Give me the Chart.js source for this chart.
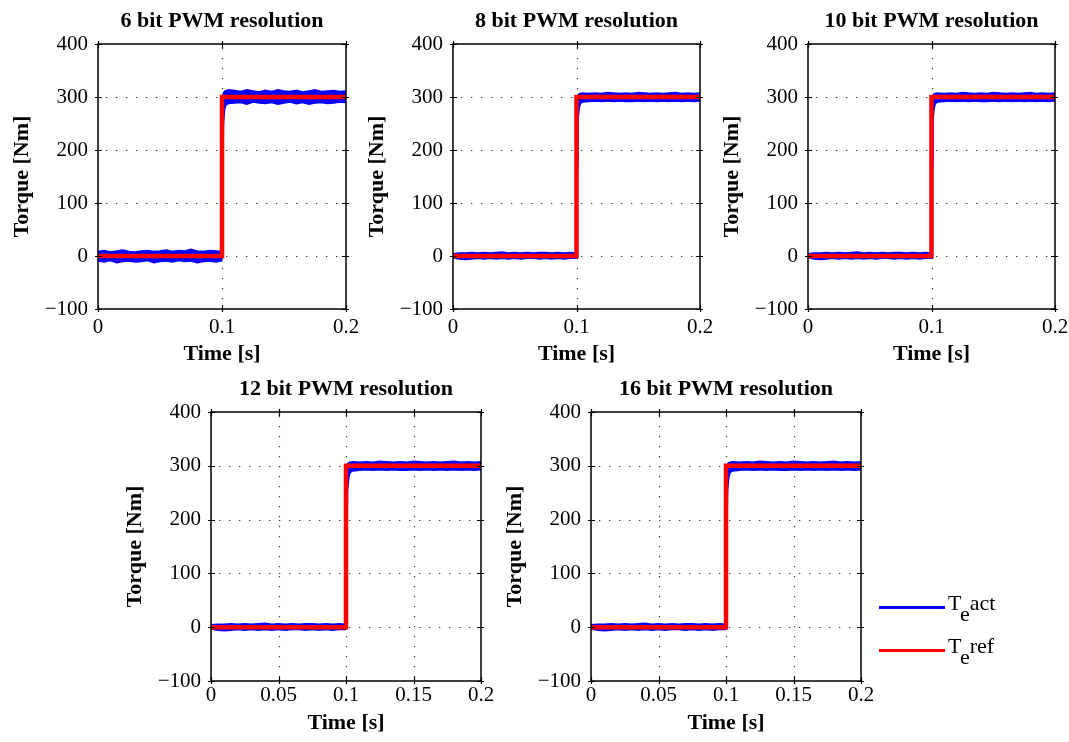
<!DOCTYPE html>
<html>
<head>
<meta charset="utf-8">
<title>PWM resolution – torque step</title>
<script src="https://cdn.jsdelivr.net/npm/chart.js@4.4.0/dist/chart.umd.min.js"></script>
<style>
  body { margin: 0; background: #fff; width: 1069px; height: 742px; overflow: hidden; position: relative; font-family: "Liberation Serif", "Times New Roman", serif; }
  canvas { position: absolute; }
  .leg { position: absolute; left: 879px; width: 66px; height: 3px; }
  .legtxt { position: absolute; left: 948px; font-size: 22px; line-height: 22px; color: #000; }
  .legtxt span { position: relative; top: 11px; }
</style>
</head>
<body>

<canvas id="c6"></canvas>
<canvas id="c8"></canvas>
<canvas id="c10"></canvas>
<canvas id="c12"></canvas>
<canvas id="c16"></canvas>

<div class="leg" style="top:606px;background:#0000ff"></div>
<div class="legtxt" style="top:592px">T<span>e</span>act</div>
<div class="leg" style="top:649px;background:#ff0000"></div>
<div class="legtxt" style="top:635px">T<span>e</span>ref</div>

<script>
/* ---------- data ---------- */
const titles = ["6 bit PWM resolution", "8 bit PWM resolution", "10 bit PWM resolution",
                "12 bit PWM resolution", "16 bit PWM resolution"];

const yTicks = [-100, 0, 100, 200, 300, 400];
const xTicksTop = [0, 0.1, 0.2];
const xTicksBottom = [0, 0.05, 0.1, 0.15, 0.2];

// reference torque (step at 0.1 s)
const tRef = [0, 0.1, 0.1, 0.2];
const teRef = [0, 0, 300, 300];

// actual torque: time samples + upper / lower envelope of the noisy band
const tAct = [0, 0.005, 0.01, 0.015, 0.02, 0.025, 0.03, 0.035, 0.04, 0.045,
              0.05, 0.055, 0.06, 0.065, 0.07, 0.075, 0.08, 0.085, 0.09, 0.095, 0.0995,
              0.1005, 0.101, 0.102, 0.103, 0.105,
              0.11, 0.115, 0.12, 0.125, 0.13, 0.135, 0.14, 0.145, 0.15, 0.155,
              0.16, 0.165, 0.17, 0.175, 0.18, 0.185, 0.19, 0.195, 0.2];

// 6 bit: wide noise band
const act6Hi = [8, 10, 7, 9, 11, 8, 7, 9, 10, 8, 9, 11, 8, 10, 9, 12, 9, 8, 10, 9, 8,
                290, 305, 310, 311, 313,
                312, 310, 313, 311, 309, 312, 310, 313, 311, 310, 312, 309, 311, 313, 310, 311, 312, 310, 311];
const act6Lo = [-9, -11, -8, -12, -10, -9, -11, -10, -8, -12, -10, -9, -11, -8, -10, -9, -12, -10, -9, -11, -9,
                170, 250, 278, 285, 288,
                289, 290, 287, 291, 289, 288, 290, 287, 289, 291, 288, 290, 287, 289, 290, 288, 289, 291, 290];

// 8/10/12/16 bit: narrower band
const actHi = [4, 5, 5, 6, 5, 6, 5, 6, 7, 5, 6, 5, 6, 5, 6, 6, 5, 6, 5, 6, 5,
               290, 302, 305, 306, 307,
               306, 307, 306, 308, 307, 306, 307, 306, 308, 307, 306, 307, 306, 307, 308, 306, 307, 306, 307];
const actLo = [-3, -5, -6, -5, -4, -5, -4, -5, -4, -5, -4, -5, -4, -4, -5, -4, -5, -4, -5, -4, -4,
               170, 255, 280, 288, 291,
               292, 293, 292, 293, 292, 293, 292, 292, 293, 292, 293, 292, 293, 292, 293, 292, 293, 292, 293];

/* ---------- helpers ---------- */
const BLUE = "#0000ff";
const RED = "#ff0000";
const FONT = "'Liberation Serif', 'Times New Roman', serif";

function toXY(xs, ys) {
  return xs.map((x, i) => ({ x: x, y: ys[i] }));
}

function fmtTick(v) {
  const s = String(Math.round(v * 1000) / 1000);
  return s.replace("-", "\u2212");
}

// dotted grid, box and small tick marks (drawn from the scales)
const framePlugin = {
  id: "frame",
  beforeDatasetsDraw(chart) {
    const { ctx, chartArea: a, scales: { x, y } } = chart;
    ctx.save();
    ctx.strokeStyle = "#333";
    ctx.lineWidth = 1.2;
    ctx.setLineDash([1.3, 8.7]);
    x.ticks.forEach(t => {
      if (t.value <= x.min || t.value >= x.max) return;
      const px = Math.round(x.getPixelForValue(t.value)) + 0.5;
      ctx.beginPath(); ctx.moveTo(px, a.top + 4); ctx.lineTo(px, a.bottom); ctx.stroke();
    });
    y.ticks.forEach(t => {
      if (t.value <= y.min || t.value >= y.max) return;
      const py = Math.round(y.getPixelForValue(t.value)) + 0.5;
      ctx.beginPath(); ctx.moveTo(a.left + 8, py); ctx.lineTo(a.right, py); ctx.stroke();
    });
    ctx.restore();
  },
  afterDraw(chart) {
    const { ctx, chartArea: a, scales: { x, y } } = chart;
    ctx.save();
    ctx.strokeStyle = "#000";
    ctx.lineWidth = 1.5;
    ctx.strokeRect(a.left, a.top, a.right - a.left, a.bottom - a.top);
    ctx.lineWidth = 1.2;
    x.ticks.forEach(t => {
      const px = Math.round(x.getPixelForValue(t.value)) + 0.5;
      ctx.beginPath();
      ctx.moveTo(px, a.bottom + 3); ctx.lineTo(px, a.bottom - 4);
      ctx.moveTo(px, a.top - 3); ctx.lineTo(px, a.top + 4);
      ctx.stroke();
    });
    y.ticks.forEach(t => {
      const py = Math.round(y.getPixelForValue(t.value)) + 0.5;
      ctx.beginPath();
      ctx.moveTo(a.left - 3, py); ctx.lineTo(a.left + 4, py);
      ctx.moveTo(a.right + 3, py); ctx.lineTo(a.right - 4, py);
      ctx.stroke();
    });
    ctx.restore();
  }
};

// plot area in page pixels: [left, top, right, bottom]
function makePlot(id, title, area, xTicks, hi, lo, xPad, xTitlePad) {
  const [L, T, R, B] = area;
  const cv = document.getElementById(id);
  const W = R - L + 196, H = B - T + 44 + 61;
  cv.width = W; cv.height = H;
  cv.style.left = (L - 98) + "px";
  cv.style.top = (T - 44) + "px";
  cv.style.width = W + "px"; cv.style.height = H + "px";

  return new Chart(cv.getContext("2d"), {
    type: "line",
    data: {
      datasets: [
        { label: "Te act hi", data: toXY(tAct, hi), borderColor: BLUE, borderWidth: 2,
          pointRadius: 0, fill: false, tension: 0, order: 2 },
        { label: "Te act", data: toXY(tAct, lo), borderColor: BLUE, borderWidth: 2,
          backgroundColor: BLUE, pointRadius: 0, fill: "-1", tension: 0, order: 1 },
        { label: "Te ref", data: toXY(tRef, teRef), borderColor: RED, borderWidth: 4.5,
          pointRadius: 0, fill: false, tension: 0, order: 0 }
      ]
    },
    options: {
      responsive: false,
      animation: false,
      layout: { padding: 0 },
      plugins: {
        legend: { display: false },
        tooltip: { enabled: false },
        title: {
          display: true, text: title, color: "#000",
          font: { family: FONT, size: 22, weight: "bold" },
          padding: { top: 8, bottom: 9.6 }
        }
      },
      scales: {
        x: {
          type: "linear", min: 0, max: 0.2,
          afterBuildTicks: s => { s.ticks = xTicks.map(v => ({ value: v })); },
          afterFit: s => { s.height = 61; },
          grid: { display: false, drawTicks: false },
          border: { display: false },
          ticks: { color: "#000", padding: xPad, maxRotation: 0, font: { family: FONT, size: 21 },
                   callback: v => fmtTick(v) },
          title: { display: true, text: "Time [s]", color: "#000",
                   font: { family: FONT, size: 22, weight: "bold" },
                   padding: { top: 0, bottom: xTitlePad } }
        },
        y: {
          min: -100, max: 400,
          afterBuildTicks: s => { s.ticks = yTicks.map(v => ({ value: v })); },
          afterFit: s => { s.width = 98; },
          grid: { display: false, drawTicks: false },
          border: { display: false },
          ticks: { color: "#000", padding: 10, font: { family: FONT, size: 21 },
                   callback: v => fmtTick(v) },
          title: { display: true, text: "Torque [Nm]", color: "#000",
                   font: { family: FONT, size: 22, weight: "bold" },
                   padding: { top: 9, bottom: 0 } }
        },
        // empty right axis so the plot (and its title) sits centred in the canvas
        yRight: {
          position: "right", min: -100, max: 400,
          afterFit: s => { s.width = 98; },
          grid: { display: false, drawTicks: false },
          border: { display: false },
          ticks: { display: false }
        }
      }
    },
    plugins: [framePlugin]
  });
}

makePlot("c6",  titles[0], [98, 44, 346, 309],  xTicksTop, act6Hi, act6Lo, 6, 2);
makePlot("c8",  titles[1], [453, 44, 700, 309], xTicksTop, actHi, actLo, 6, 2);
makePlot("c10", titles[2], [808, 44, 1055, 309], xTicksTop, actHi, actLo, 6, 2);
makePlot("c12", titles[3], [211, 412, 481, 681], xTicksBottom, actHi, actLo, 2, 5);
makePlot("c16", titles[4], [591, 412, 861, 681], xTicksBottom, actHi, actLo, 2, 5);
</script>
</body>
</html>
